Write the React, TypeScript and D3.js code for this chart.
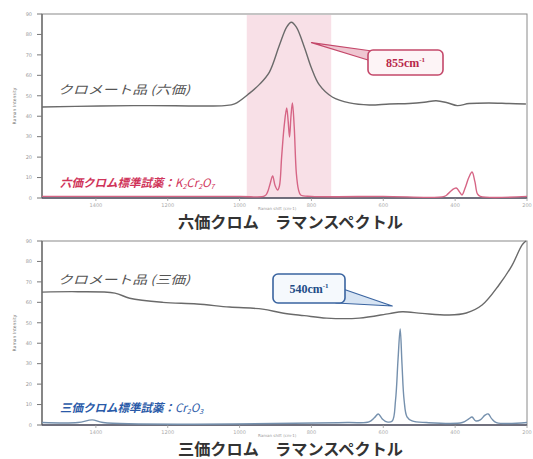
import React from 'react';
import * as d3 from 'd3';

// Raman shift (cm-1) ticks and intensity ticks
const xTicks = [1400, 1200, 1000, 800, 600, 400, 200];
const yTicks = [0, 10, 20, 30, 40, 50, 60, 70, 80, 90];

// hexavalent: chromate product spectrum [shift, intensity]
const chromateHex: [number, number][] = [
  [1550, 44.5], [1389, 45], [1250, 45.2], [1111, 45], [1042, 45.2], [1014, 46],
  [972, 51.3], [944, 55.7], [917, 61.6], [889, 74.8], [869, 83.6], [856, 86],
  [842, 83.6], [819, 73.4], [800, 63.6], [778, 55.3], [742, 49.4], [694, 46.5],
  [639, 45.5], [583, 46], [528, 46.2], [486, 46.8], [453, 47.6], [422, 46.6],
  [394, 45.2], [361, 46.2], [306, 46.5], [250, 46.2], [203, 46],
];

// hexavalent standard K2Cr2O7
const standardHex: [number, number][] = [
  [1550, 0.8], [1300, 0.8], [1000, 0.8], [930, 1], [922, 3], [915, 7], [908, 10.8],
  [901, 6], [894, 3.9], [889, 6], [883, 20], [876, 35], [869, 44], [865, 38],
  [861, 29.8], [857, 40], [853, 46.5], [848, 35], [842, 12], [836, 4], [830, 1.5],
  [800, 0.8], [600, 0.8], [430, 0.8], [420, 2], [408, 4], [397, 4.9], [388, 3],
  [381, 1.5], [372, 5], [362, 10], [353, 12.7], [345, 8], [338, 2], [330, 0.8], [200, 0.8],
];

// trivalent: chromate product spectrum
const chromateTri: [number, number][] = [
  [1550, 65], [1450, 65.2], [1347, 64.5], [1306, 62], [1214, 60], [1119, 59.2],
  [1028, 57.7], [936, 56.7], [881, 54.8], [820, 53.5], [758, 52.3], [667, 52.3],
  [583, 54.5], [547, 55.4], [492, 54.6], [417, 53.8], [369, 54.8], [325, 58.7],
  [278, 68.5], [242, 78], [214, 88], [203, 90],
];

// trivalent standard Cr2O3
const standardTri: [number, number][] = [
  [1550, 1.2], [1450, 1.2], [1410, 2.5], [1380, 1.2], [700, 1.2], [640, 1.5],
  [625, 3.5], [614, 5.4], [603, 3], [590, 1.5], [575, 2], [566, 12], [559, 32],
  [553, 47], [548, 30], [542, 12], [534, 4], [520, 2], [480, 1.2], [380, 1.2],
  [362, 3], [353, 3.9], [343, 2], [330, 2.5], [317, 4.8], [308, 5.4], [298, 3],
  [285, 1.2], [200, 1.2],
];

const highlightBand = [980, 745];

const W = 533;
const H = 459;
const left = 42;
const right = 527;

const x = d3.scaleLinear().domain([1550, 200]).range([left, right]);

const Panel = ({ top, bottom, sample, standard, sampleLabel, stdLabel, stdColor, stdLine, title, band, callout }: any) => {
  const y = d3.scaleLinear().domain([0, 90]).range([bottom, top]);
  const line = d3.line<[number, number]>()
    .x(d => x(d[0]))
    .y(d => y(d[1]))
    .curve(d3.curveCatmullRom.alpha(0.5));
  const mid = (top + bottom) / 2;
  const tip = [x(callout.tip[0]), y(callout.tip[1])];
  return (
    <g>
      {band && (
        <rect x={x(band[0])} y={top + 1} width={x(band[1]) - x(band[0])} height={bottom - top - 1}
          fill="#f7dbe3" opacity={0.85} />
      )}
      {/* frame */}
      <rect x={left} y={top} width={right - left} height={bottom - top} fill="none" stroke="#8a8a8a" strokeWidth={1} />
      <line x1={left} x2={left} y1={top} y2={bottom} stroke="#666" strokeWidth={1.3} />
      <line x1={left} x2={right} y1={bottom} y2={bottom} stroke="#556" strokeWidth={1.3} />
      {yTicks.map(t => (
        <g key={t}>
          <line x1={left - 5} x2={left} y1={y(t)} y2={y(t)} stroke="#777" strokeWidth={1} />
          <text x={left - 10} y={y(t)} dy="0.35em" textAnchor="end" fontSize={5} fill="#999"
            fontFamily="DejaVu Sans">{t}</text>
        </g>
      ))}
      {xTicks.map(t => (
        <g key={t}>
          <line x1={x(t)} x2={x(t)} y1={bottom} y2={bottom + 3} stroke="#999" strokeWidth={0.8} />
          <text x={x(t)} y={bottom + 8.5} textAnchor="middle" fontSize={5} fill="#aaa"
            fontFamily="DejaVu Sans">{t}</text>
        </g>
      ))}
      <text transform={`translate(16,${mid}) rotate(-90)`} textAnchor="middle" fontSize={4.5} fill="#777"
        fontFamily="DejaVu Sans">Raman Intensity</text>
      <text x={258} y={bottom + 11.5} fontSize={4} fill="#999" fontFamily="DejaVu Sans">Raman shift (cm-1)</text>

      <path d={line(standard) || ''} fill="none" stroke={stdLine} strokeWidth={1.4} />
      <path d={line(sample) || ''} fill="none" stroke="#6a6a6a" strokeWidth={1.4} />

      <text x={58} y={y(sampleLabel.v)} dy="0.35em" fontSize={12} fontStyle="italic" fill="#555"
        fontFamily="Noto Sans CJK JP" textLength={132} lengthAdjust="spacingAndGlyphs">{sampleLabel.text}</text>
      <text x={60} y={y(stdLabel.v)} dy="0.35em" fontSize={11.5} fontStyle="italic" fontWeight="bold" fill={stdColor}
        fontFamily="Noto Sans CJK JP">
        {stdLabel.text}
        {stdLabel.formula.map((p: any, i: number) => (
          <tspan key={i} fontSize={p.sub ? 7 : 11.5} dy={p.sub ? 2 : (i > 0 && stdLabel.formula[i - 1].sub ? -2 : 0)}
            fontWeight="normal">{p.t}</tspan>
        ))}
      </text>

      {/* callout */}
      <polygon points={callout.wedge(tip).map((p: number[]) => p.join(',')).join(' ')}
        fill={callout.fillW} stroke={callout.stroke} strokeWidth={1.2} strokeLinejoin="round" />
      <rect x={callout.box[0]} y={callout.box[1]} width={callout.box[2]} height={callout.box[3]} rx={5}
        fill={callout.fill} stroke={callout.stroke} strokeWidth={1.6} />
      <text x={callout.box[0] + callout.box[2] / 2} y={callout.box[1] + callout.box[3] / 2} dy="0.38em"
        textAnchor="middle" fontFamily="Liberation Serif" fontWeight="bold" fontSize={12} fill={callout.text}>
        {callout.label}<tspan fontSize={7} dy={-5}>-1</tspan>
      </text>

      <text x={178} y={bottom + 30} fontSize={16} fontWeight="bold" fill="#333"
        fontFamily="Noto Sans CJK JP" textLength={225} lengthAdjust="spacingAndGlyphs">{title}</text>
    </g>
  );
};

export default function App() {
  return (
    <svg width={W} height={H} style={{ position: 'absolute', left: 0, top: 0, background: '#fff' }}>
      <rect width={W} height={H} fill="#fff" />
      <Panel
        top={14} bottom={198}
        sample={chromateHex} standard={standardHex}
        sampleLabel={{ text: 'クロメート品 (六価)', v: 53 }}
        stdLabel={{ text: '六価クロム標準試薬：', v: 7.5, formula: [{ t: 'K' }, { t: '2', sub: true }, { t: 'Cr' }, { t: '2', sub: true }, { t: 'O' }, { t: '7', sub: true }] }}
        stdColor="#d0345a" stdLine="#d66585"
        title="六価クロム　ラマンスペクトル"
        band={highlightBand}
        callout={{
          tip: [800, 76], label: '855cm', box: [368, 50, 75, 25],
          wedge: (t: number[]) => [t, [372, 51], [368, 60]],
          stroke: '#c4486a', fill: '#fdf4f6', fillW: '#efc6d1', text: '#b8284a',
        }}
      />
      <Panel
        top={241} bottom={425}
        sample={chromateTri} standard={standardTri}
        sampleLabel={{ text: 'クロメート品 (三価)', v: 71 }}
        stdLabel={{ text: '三価クロム標準試薬：', v: 8.5, formula: [{ t: 'Cr' }, { t: '2', sub: true }, { t: 'O' }, { t: '3', sub: true }] }}
        stdColor="#2a5aa8" stdLine="#7590ad"
        title="三価クロム　ラマンスペクトル"
        band={null}
        callout={{
          tip: [575, 58.2], label: '540cm', box: [273, 274, 72, 29],
          wedge: (t: number[]) => [[343, 289], t, [336, 303]],
          stroke: '#3a64a0', fill: '#f5f9fd', fillW: '#d7e4f3', text: '#224c86',
        }}
      />
    </svg>
  );
}
